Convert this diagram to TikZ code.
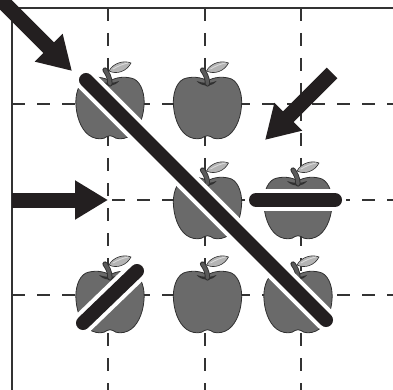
\documentclass[tikz,border=0pt]{standalone}
\usetikzlibrary{arrows.meta}
\definecolor{applebody}{HTML}{6A6A6A}
\definecolor{appleline}{HTML}{303030}
\definecolor{leafcol}{HTML}{B4B4B4}
\definecolor{leafvein}{HTML}{DADADA}
\definecolor{stemcol}{HTML}{5A5A5A}
\definecolor{barcol}{HTML}{231F20}
\definecolor{gridcol}{HTML}{333333}
\tikzset{
  frameline/.style={draw=gridcol, line width=1.2},
  gridline/.style={draw=gridcol, line width=1.1, dash pattern=on 13pt off 12pt},
  slashwhite/.style={draw=white, line width=22, line cap=round},
  slashblack/.style={draw=barcol, line width=14, line cap=round},
  bigarrow/.style={draw=barcol, line width=15, -{Triangle[length=33pt,width=37pt]}},
  apple/.pic={
    \fill[applebody, draw=appleline, line width=0.8]
      (0,-27) .. controls (6,-31) and (16,-32) .. (24,-29)
      .. controls (32,-25) and (35,-12) .. (34,-2)
      .. controls (33,12) and (27,25) .. (18,29)
      .. controls (13,31.5) and (6,31.5) .. (3,28.5)
      .. controls (1,27.5) and (-1,27.5) .. (-3,28.5)
      .. controls (-6,31.5) and (-13,31.5) .. (-18,29)
      .. controls (-27,25) and (-33,12) .. (-34,-2)
      .. controls (-35,-12) and (-32,-25) .. (-24,-29)
      .. controls (-16,-32) and (-6,-31) .. (0,-27) -- cycle;
    \fill[appleline] (-11,-27) .. controls (-6,-21) and (5,-21) .. (9,-27)
      .. controls (4,-24.5) and (-5,-24.5) .. (-11,-27) -- cycle;
    \draw[appleline, line width=5.2, line cap=round] (0,-24) .. controls (0,-31) and (-3,-35) .. (-5,-38);
    \draw[stemcol, line width=3.4, line cap=round] (0,-24) .. controls (0,-31) and (-3,-35) .. (-5,-38);
    \fill[leafcol, draw=appleline, line width=0.6]
      (-1,-37) .. controls (3,-45) and (14,-48) .. (21,-45)
      .. controls (17,-37) and (7,-33) .. (-1,-37) -- cycle;
    \draw[leafvein, line width=0.9] (3,-39) .. controls (8,-42) and (13,-44) .. (18,-45);
  }
}
\begin{document}
\begin{tikzpicture}[x=1pt,y=-1pt]
\useasboundingbox (0,0) rectangle (393,390);
\clip (0,0) rectangle (393,390);
% grid
\foreach \gx in {108,205,301} {\draw[gridline] (\gx,8) -- (\gx,392);}
\foreach \gy in {104,200,295} {\draw[gridline] (12,\gy) -- (395,\gy);}
\draw[frameline] (12,392) -- (12,8) -- (395,8);
% apples
\pic (a11) at (110,108) {apple};
\pic (a12) at (207.5,108) {apple};
\pic (a22) at (207.5,208) {apple};
\pic (a23) at (298,208) {apple};
\pic (a31) at (110,302) {apple};
\pic (a32) at (207.5,302) {apple};
\pic (a33) at (298,302) {apple};
% slashes
\coordinate (d1) at (86,80);
\coordinate (d2) at (326,320);
\coordinate (h1) at (256,200);
\coordinate (h2) at (335,200);
\coordinate (b1) at (83,323);
\coordinate (b2) at (137,271);
\draw[slashwhite] (d1) -- (d2);
\draw[slashblack] (d1) -- (d2);
\draw[slashwhite] (h1) -- (h2);
\draw[slashblack] (h1) -- (h2);
\draw[slashwhite] (b1) -- (b2);
\draw[slashblack] (b1) -- (b2);
% arrows
\coordinate (ta) at (-15,-16);
\coordinate (tb) at (72,71);
\coordinate (la) at (12,200);
\coordinate (lb) at (108,200);
\coordinate (ra) at (332,73);
\coordinate (rb) at (265,140);
\draw[bigarrow] (ta) -- (tb);
\draw[bigarrow] (la) -- (lb);
\draw[bigarrow] (ra) -- (rb);
\end{tikzpicture}
\end{document}
